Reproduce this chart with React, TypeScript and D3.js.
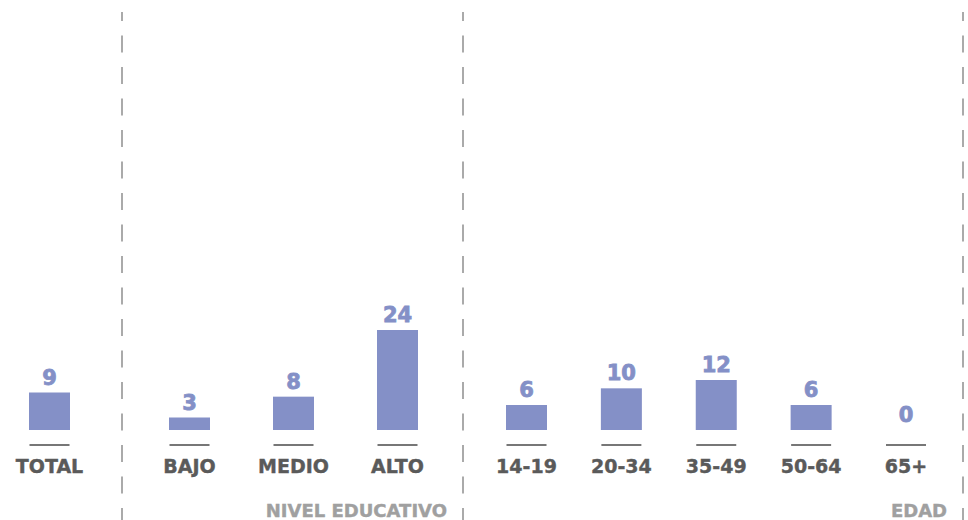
import React from "react";
import * as d3 from "d3";

const totalCategories = ["TOTAL"];
const totalValues = [9];
const educationCategories = ["BAJO", "MEDIO", "ALTO"];
const educationValues = [3, 8, 24];
const ageCategories = ["14-19", "20-34", "35-49", "50-64", "65+"];
const ageValues = [6, 10, 12, 6, 0];
const groupTitles = ["", "NIVEL EDUCATIVO", "EDAD"];

const W = 968;
const H = 520;
const BAR_COLOR = "#8490C7";
const FONT = "'DejaVu Sans', sans-serif";

export default function App() {
  const y = d3.scaleLinear().domain([0, 24]).range([430, 330]);
  const barW = 41;

  const groups = [
    { cats: totalCategories, vals: totalValues, range: [0, 99], sep: 122, title: groupTitles[0] },
    { cats: educationCategories, vals: educationValues, range: [189.5, 397.5], sep: 463, title: groupTitles[1] },
    { cats: ageCategories, vals: ageValues, range: [526.5, 906], sep: 963, title: groupTitles[2] },
  ];

  return (
    <svg width={W} height={H} style={{ position: "absolute", left: 0, top: 0 }}>
      {groups.map((g, gi) => {
        const x = d3
          .scalePoint<string>()
          .domain(g.cats)
          .range(g.range as [number, number])
          .padding(g.cats.length === 1 ? 0.5 : 0);
        return (
          <g key={gi}>
            <line
              x1={g.sep}
              x2={g.sep}
              y1={12}
              y2={H}
              stroke="#AAAAAA"
              strokeWidth={2}
              strokeDasharray="17 14.5"
              strokeDashoffset={8}
            />
            {g.title && (
              <text
                x={g.sep - 16}
                y={517}
                textAnchor="end"
                fontFamily={FONT}
                fontWeight="bold"
                fontSize={18}
                fill="#A0A0A0"
                stroke="#A0A0A0"
                strokeWidth={0.4}
              >
                {g.title}
              </text>
            )}
            {g.cats.map((c, i) => {
              const cx = x(c)!;
              const v = g.vals[i];
              return (
                <g key={c}>
                  <rect x={cx - barW / 2} y={y(v)} width={barW} height={y(0) - y(v)} fill={BAR_COLOR} />
                  <text
                    x={cx}
                    y={y(v) - 8}
                    textAnchor="middle"
                    fontFamily={FONT}
                    fontWeight="bold"
                    fontSize={21}
                    fill={BAR_COLOR}
                    stroke={BAR_COLOR}
                    strokeWidth={0.8}
                  >
                    {v}
                  </text>
                  <line x1={cx - 20} x2={cx + 20} y1={445} y2={445} stroke="#777777" strokeWidth={2} />
                  <text
                    x={cx}
                    y={473}
                    textAnchor="middle"
                    fontFamily={FONT}
                    fontWeight="bold"
                    fontSize={19}
                    fill="#5A5A5A"
                    stroke="#5A5A5A"
                    strokeWidth={0.4}
                  >
                    {c}
                  </text>
                </g>
              );
            })}
          </g>
        );
      })}
    </svg>
  );
}
